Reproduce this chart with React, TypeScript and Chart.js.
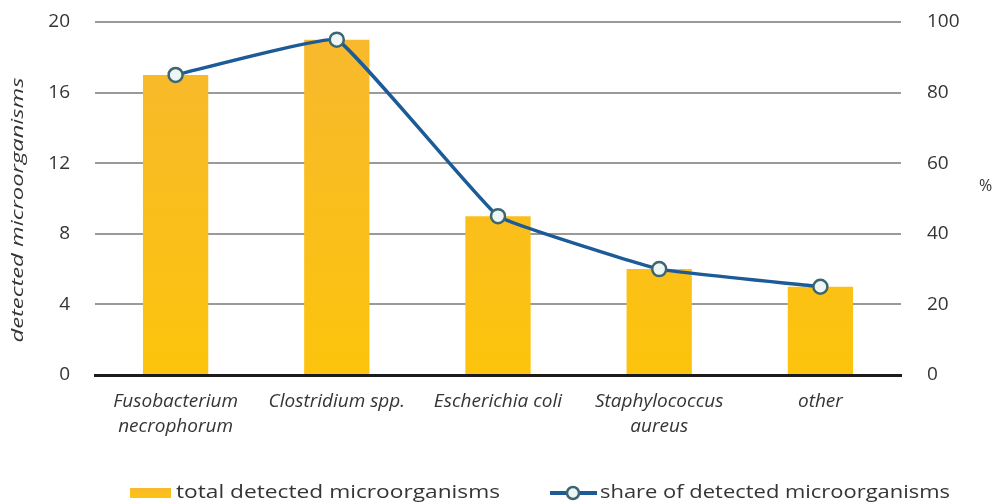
import React, { useEffect, useRef } from "react";
import { Chart, registerables } from "chart.js";

Chart.register(...registerables);

const categories: string[][] = [
  ["Fusobacterium", "necrophorum"],
  ["Clostridium spp."],
  ["Escherichia coli"],
  ["Staphylococcus", "aureus"],
  ["other"],
];
const totalDetected: number[] = [17, 19, 9, 6, 5];
const sharePercent: number[] = [85, 95, 45, 30, 25];
const countTicks: number[] = [0, 4, 8, 12, 16, 20];
const percentTicks: number[] = [0, 20, 40, 60, 80, 100];

const barLabel = "total detected microorganisms";
const lineLabel = "share of detected microorganisms";
const leftTitle = "detected microorganisms";
const rightTitle = "%";

const FONT = "'Open Sans', 'DejaVu Sans', sans-serif";
const TEXT = "#353535";
const LINE_BLUE = "#1c5b98";
const POINT_EDGE = "#3d6670";
const POINT_FILL = "#eef6f3";

function barGradient(ctx: CanvasRenderingContext2D, top: number, bottom: number) {
  const g = ctx.createLinearGradient(0, top, 0, bottom);
  g.addColorStop(0, "#f8b82f");
  g.addColorStop(1, "#fcc40c");
  return g;
}

// Writes text so that it spans a given width, stretching the glyphs horizontally.
function fitText(ctx: CanvasRenderingContext2D, text: string, x: number, y: number, width: number) {
  const w = ctx.measureText(text).width;
  ctx.save();
  ctx.translate(x, y);
  ctx.scale(width / w, 1);
  ctx.fillText(text, 0, 0);
  ctx.restore();
}

// Bottom legend, the rotated left axis title and the "%" title beside the right axis.
const extrasPlugin = {
  id: "extras",
  afterDraw(chart: Chart) {
    const ctx = chart.ctx;
    ctx.save();
    const y = 493;
    ctx.textBaseline = "middle";
    ctx.textAlign = "left";

    // bar swatch
    ctx.fillStyle = barGradient(ctx, y - 5, y + 5);
    ctx.fillRect(130, y - 5, 41, 10);
    ctx.font = `18px ${FONT}`;
    ctx.fillStyle = TEXT;
    fitText(ctx, barLabel, 176, y, 324);

    // line swatch
    ctx.strokeStyle = LINE_BLUE;
    ctx.lineWidth = 4;
    ctx.beginPath();
    ctx.moveTo(550, y);
    ctx.lineTo(597, y);
    ctx.stroke();
    ctx.beginPath();
    ctx.arc(573, y, 6, 0, Math.PI * 2);
    ctx.fillStyle = POINT_FILL;
    ctx.fill();
    ctx.lineWidth = 2.5;
    ctx.strokeStyle = POINT_EDGE;
    ctx.stroke();
    ctx.fillStyle = TEXT;
    fitText(ctx, lineLabel, 600, y, 350);

    // left axis title
    ctx.save();
    ctx.translate(18, 210);
    ctx.rotate(-Math.PI / 2);
    ctx.font = `italic 17px ${FONT}`;
    ctx.textAlign = "left";
    const tw = ctx.measureText(leftTitle).width;
    ctx.scale(265 / tw, 1);
    ctx.fillText(leftTitle, -tw / 2, 0);
    ctx.restore();

    // right axis title
    ctx.font = `16px ${FONT}`;
    ctx.fillText(rightTitle, 979, 186);
    ctx.restore();
  },
};

export default function App() {
  const canvasRef = useRef<HTMLCanvasElement | null>(null);

  useEffect(() => {
    const canvas = canvasRef.current;
    if (!canvas) return;
    const chart = new Chart(canvas, {
      type: "bar",
      data: {
        labels: categories,
        datasets: [
          {
            type: "line",
            label: lineLabel,
            data: sharePercent,
            yAxisID: "yPct",
            order: 0,
            borderColor: LINE_BLUE,
            borderWidth: 3.5,
            tension: 0.08,
            pointRadius: 7,
            pointBorderWidth: 2.5,
            pointBackgroundColor: POINT_FILL,
            pointBorderColor: POINT_EDGE,
          },
          {
            type: "bar",
            label: barLabel,
            data: totalDetected,
            yAxisID: "yCount",
            order: 1,
            backgroundColor: (c: any) => {
              const area = c.chart.chartArea;
              if (!area) return "#fbbf1c";
              return barGradient(c.chart.ctx, area.top, area.bottom);
            },
            categoryPercentage: 0.405,
            barPercentage: 1,
          },
        ],
      },
      options: {
        responsive: false,
        animation: false,
        layout: { padding: { top: 22, left: 0, right: 0, bottom: 0 } },
        plugins: {
          legend: { display: false },
          tooltip: { enabled: false },
        },
        scales: {
          x: {
            grid: { display: false, drawTicks: false },
            border: { display: true, color: "#1c1c1c", width: 3 },
            ticks: {
              color: TEXT,
              padding: 14,
              maxRotation: 0,
              autoSkip: false,
              font: { family: FONT, size: 19, style: "italic", lineHeight: 1.32 },
            },
            afterFit: (s: any) => {
              s.height = 127;
              s.paddingLeft = 0;
              s.paddingRight = 0;
            },
          },
          yCount: {
            position: "left",
            min: 0,
            max: 20,
            afterBuildTicks: (s: any) => {
              s.ticks = countTicks.map((v) => ({ value: v }));
            },
            grid: { color: "#9a9a9a", lineWidth: 2, drawTicks: false },
            border: { display: false },
            ticks: {
              color: TEXT,
              padding: 25,
              font: { family: FONT, size: 19 },
            },
            afterFit: (s: any) => {
              s.width = 95;
              s.paddingTop = 0;
              s.paddingBottom = 0;
            },
          },
          yPct: {
            position: "right",
            min: 0,
            max: 100,
            afterBuildTicks: (s: any) => {
              s.ticks = percentTicks.map((v) => ({ value: v }));
            },
            grid: { display: false, drawTicks: false },
            border: { display: false },
            ticks: {
              color: TEXT,
              padding: 26,
              font: { family: FONT, size: 19 },
            },
            afterFit: (s: any) => {
              s.width = 94;
              s.paddingTop = 0;
              s.paddingBottom = 0;
            },
          },
        },
      },
      plugins: [extrasPlugin],
    });
    return () => chart.destroy();
  }, []);

  return (
    <div style={{ position: "fixed", left: 0, top: 0, width: 995, height: 502, background: "#ffffff" }}>
      <canvas ref={canvasRef} width={995} height={502} style={{ display: "block" }} />
    </div>
  );
}
